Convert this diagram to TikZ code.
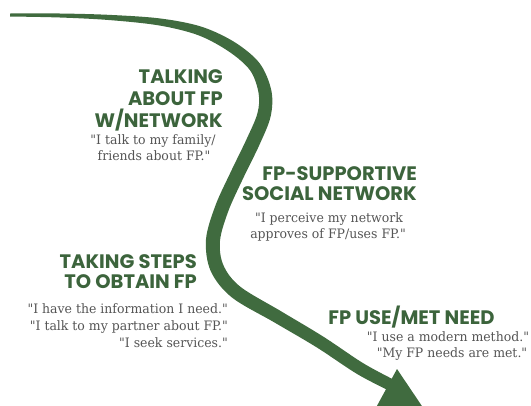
\documentclass[tikz,border=0pt]{standalone}
\usepackage{fontspec}
\newfontfamily\headfont{Poppins}
\newfontfamily\quotefont{DejaVu Serif}[FakeStretch=0.96]
\definecolor{pathgreen}{RGB}{64,107,63}
\definecolor{headgreen}{RGB}{60,100,60}
\definecolor{quotegrey}{RGB}{85,85,85}
\tikzset{
  heading/.style={inner sep=0pt, text=headgreen, font=\headfont\bfseries\fontsize{19.5}{22}\selectfont},
  saying/.style={inner sep=0pt, text=quotegrey, font=\quotefont\fontsize{13}{16}\selectfont},
}
\begin{document}
\begin{tikzpicture}[x=1pt, y=-1pt]
\useasboundingbox (0,0) rectangle (531,405);
\begin{scope}
\clip (0,0) rectangle (531,405);
% tapering path: upper/right edge out, lower/left edge back
\fill[pathgreen]
  plot[smooth, tension=0.55] coordinates {
    (10,13.5) (60,13.5) (110.2,14.9) (160.5,18.5) (201.5,26.7) (235,42.4)
    (259.8,63.5) (271.4,90.8) (270.6,116.6) (259.4,144.9) (243.3,178)
    (228.6,210.4) (220,240.6) (223.4,265.2) (240.3,286.7) (281.3,311.4)
    (323.4,336.7) (363.2,363.2) (394.8,380.2)}
  -- plot[smooth, tension=0.55] coordinates {
    (389.2,390.8) (356.8,373.8) (316.6,347.3) (274.7,322.6) (231.7,297.3)
    (210.6,270.8) (206,239.4) (215.4,205.6) (230.7,172) (246.6,139.1)
    (257.4,113.4) (258.6,93.2) (250.2,70.5) (229,51.6) (198.5,35.3)
    (159.5,25.5) (109.8,20.1) (60,17.5) (10,16.5)}
  -- cycle;
% arrowhead
\coordinate (wingA) at (397,369);
\coordinate (tip) at (430,418);
\coordinate (wingB) at (372,415);
\fill[pathgreen] (wingA) -- (tip) -- (wingB) -- cycle;
\end{scope}

% talking about FP with network
\node[heading, anchor=base east] (t1) at (223,83) {TALKING};
\node[heading, anchor=base east] (t2) at (223,105.5) {ABOUT FP};
\node[heading, anchor=base east] (t3) at (223,127.5) {W/NETWORK};
\node[saying, anchor=base] (tq1) at (153,144.5) {"I talk to my family/};
\node[saying, anchor=base] (tq2) at (154,160) {friends about FP."};

% supportive social network
\node[heading, anchor=base east] (s1) at (417,180) {FP-SUPPORTIVE};
\node[heading, anchor=base east] (s2) at (417,200) {SOCIAL NETWORK};
\node[saying, anchor=base] (sq1) at (329,222) {"I perceive my network};
\node[saying, anchor=base] (sq2) at (328,238.5) {approves of FP/uses FP."};

% taking steps
\node[heading, anchor=base east] (k1) at (197,268) {TAKING STEPS};
\node[heading, anchor=base east] (k2) at (197,288) {TO OBTAIN FP};
\node[saying, anchor=base east] (kq1) at (228,313) {"I have the information I need."};
\node[saying, anchor=base east] (kq2) at (228,330) {"I talk to my partner about FP."};
\node[saying, anchor=base east] (kq3) at (228,347) {"I seek services."};

% use / met need
\node[heading, anchor=base] (u1) at (411.5,324) {FP USE/MET NEED};
\node[saying, anchor=base] (uq1) at (448,341.5) {"I use a modern method."};
\node[saying, anchor=base] (uq2) at (452,357.5) {"My FP needs are met."};
\end{tikzpicture}
\end{document}
